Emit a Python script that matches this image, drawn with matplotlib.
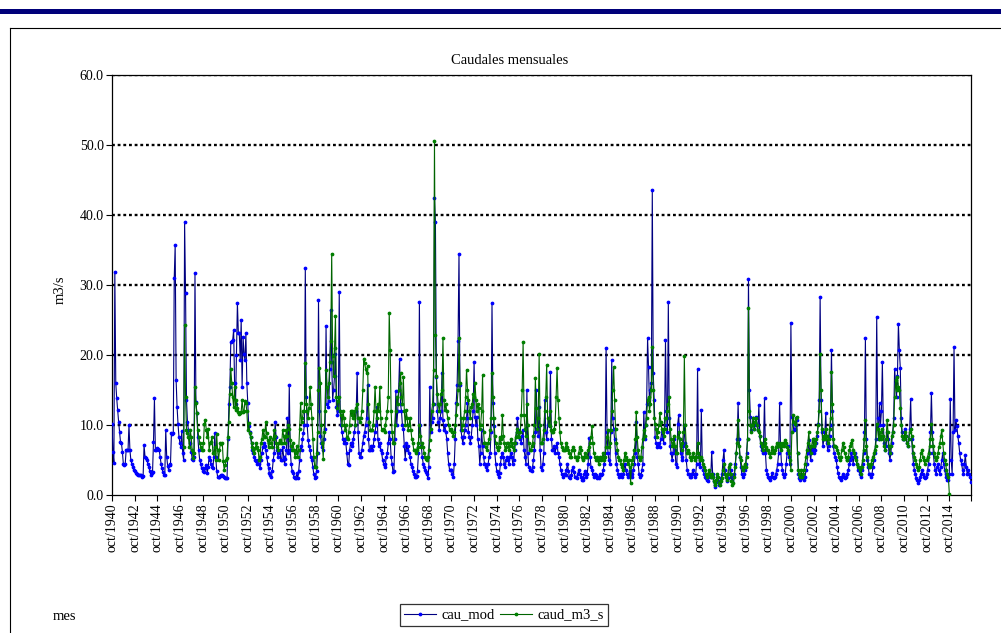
import numpy as np
import pandas as pd
import matplotlib
matplotlib.use("Agg")
import matplotlib.pyplot as plt
from matplotlib.lines import Line2D
from matplotlib.patches import Rectangle
from matplotlib.ticker import FormatStrFormatter

# monthly flows, one row per water year (oct..sep), 1940/41 .. 2015/16
cau_mod = [
    10.2, 6.2, 4.6, 31.9, 16, 13.8, 12.1, 10.5, 9, 7.6, 7.4, 6.2,
    4.5, 4.3, 4.4, 6.4, 6.5, 6.4, 10, 6.4, 5, 4.5, 4, 3.6,
    3.4, 3.1, 3.0, 3.0, 2.9, 2.9, 2.9, 2.8, 2.6, 2.7, 7.1, 5.5,
    5.3, 5, 4.5, 4, 3.5, 2.9, 3.1, 3.3, 7.6, 13.8, 6.4, 6.5,
    6.7, 6.6, 6.5, 5.5, 4.5, 3.8, 3.3, 2.9, 2.9, 9.3, 5.5, 4.2,
    3.6, 4.5, 4.3, 8.8, 8.7, 8.8, 31, 35.7, 16.4, 12.6, 10.2, 8.3,
    7.5, 6.9, 9.1, 6.0, 5.0, 39, 28.8, 13.6, 10.5, 9.3, 8.3, 7.4,
    6.2, 5.2, 5.0, 5.5, 31.7, 13.3, 11.7, 8.3, 6.4, 5.0, 4.5, 3.8,
    3.8, 3.5, 3.3, 3.8, 4.3, 3.1, 4.0, 5.5, 5.0, 4.5, 4.0, 3.8,
    5.5, 8.8, 5.5, 3.5, 2.6, 2.6, 2.6, 2.7, 2.9, 2.8, 2.7, 2.6,
    2.5, 2.4, 2.4, 8.0, 13, 15.5, 21.9, 22, 22.1, 23.6, 16, 13,
    20, 27.4, 23.1, 23.1, 19.3, 25, 15.5, 22.6, 20.2, 19.3, 23.1, 16,
    13.1, 9.8, 9, 8.3, 7.4, 6.4, 6, 5.5, 5, 4.8, 4.5, 5,
    4.5, 3.8, 5, 6.0, 6.9, 7.4, 7.0, 6.4, 5.5, 4.5, 3.8, 3.1,
    2.8, 2.6, 3.5, 5, 6, 10.5, 8.3, 6.5, 5.5, 6.0, 6.4, 5,
    5.0, 6.9, 5.5, 4.5, 5.2, 6.4, 11, 6.0, 15.7, 6.5, 4.5, 3.5,
    3.2, 2.6, 2.4, 2.5, 3.1, 2.4, 3.4, 5.0, 7.0, 6.5, 8.0, 8.8,
    10, 32.4, 14, 10, 7.9, 7, 6.5, 5.5, 5, 4, 3, 2.4,
    2.6, 3.5, 6.0, 27.9, 12.0, 8.5, 7.5, 6.9, 6.5, 8.0, 9.5, 24.1,
    13, 12.6, 13.5, 18, 26.4, 19, 13.6, 15, 17, 20.2, 12.6, 11.5,
    12, 29, 12, 10, 9, 8, 7.4, 8, 7.4, 6.0, 4.5, 4.3,
    6.4, 7.4, 7.0, 7.4, 8.0, 9.0, 10, 12, 17.4, 9, 6, 5.5,
    5.5, 6.5, 7.4, 8.5, 9, 10, 11, 15.7, 8, 6.4, 6.4, 7,
    6.4, 7, 8, 9, 10, 12.6, 8, 7, 7.4, 6.4, 6.0, 5.0,
    4.5, 4.0, 4.5, 5.5, 6.0, 7.4, 9.0, 8.0, 5.5, 4.5, 3.3, 3.5,
    8, 14.8, 10, 12, 15, 19.5, 13, 12, 10, 9.5, 7, 5.2,
    7.4, 6.5, 7.0, 6.0, 5.5, 4.5, 4.0, 3.5, 3.0, 2.6, 2.6, 2.7,
    3.5, 6.0, 27.6, 10, 7, 5.5, 4.5, 4.0, 3.6, 3.3, 3.0, 2.4,
    4, 15.5, 9, 10.5, 11, 13, 42.4, 39, 16.9, 12, 10.5, 9.3,
    11, 12, 17.4, 10.7, 9.3, 10, 9, 8, 6, 4.5, 3.6, 3.6,
    3.6, 3.0, 2.6, 4.5, 8, 13.1, 15.7, 22, 34.5, 15.7, 9.3, 8.3,
    7.4, 8.3, 9.3, 10, 11, 13.1, 9, 8.3, 7.5, 8.3, 10, 12,
    19, 11.2, 10, 11.2, 8, 7, 4.5, 6, 9.3, 7, 5.5, 4.5,
    4.5, 4.0, 3.6, 4.5, 5.5, 6.0, 9, 27.5, 13.1, 9.8, 6, 4.5,
    3.5, 3.0, 2.6, 3.2, 4.5, 5.5, 6.0, 5.5, 4.5, 4.0, 5.0, 5.5,
    5.0, 4.5, 5.5, 6.0, 5.5, 4.5, 5.0, 6.5, 7.5, 9.0, 11, 9.3,
    8.3, 8.0, 7.5, 8.5, 9.3, 6.5, 5.5, 4.5, 15, 6, 4.0, 3.6,
    3.6, 3.5, 4.0, 5.0, 6.5, 9, 15, 9.5, 8.5, 12.6, 6.5, 4.0,
    3.6, 4.5, 6.0, 13.6, 9.0, 8.0, 10, 11, 9.8, 17.6, 8, 6.5,
    6.5, 7.0, 6.0, 6.9, 7.4, 6.0, 5.5, 4.5, 3.6, 3.0, 2.6, 3.0,
    3.0, 2.8, 3.6, 4.5, 3.5, 2.6, 2.5, 2.8, 3.6, 4.0, 3.3, 2.6,
    2.6, 2.4, 3.0, 3.6, 3.0, 2.6, 2.2, 2.1, 2.5, 3.0, 3.5, 2.6,
    3.0, 4.5, 8.1, 5.5, 4.0, 3.6, 3.0, 2.6, 3.0, 2.8, 2.4, 2.6,
    2.4, 2.6, 3.0, 2.8, 3.0, 3.6, 4.5, 6.0, 21, 9.0, 6.0, 5.0,
    4.5, 9, 19.3, 11, 9.5, 8.0, 6.0, 4.5, 3.6, 3.0, 2.6, 2.8,
    3.0, 2.6, 3.0, 3.6, 4.5, 3.6, 3.0, 2.6, 3.0, 3.5, 3.0, 2.6,
    3.0, 3.6, 4.5, 6.0, 10.5, 5.5, 4.5, 3.0, 2.6, 2.8, 3.6, 4.5,
    11.9, 8, 10, 13, 22.4, 18.3, 13, 15, 16, 43.6, 17.4, 13.6,
    8.3, 7.5, 6.9, 7.0, 7.5, 6.9, 8.0, 9.0, 8.5, 7.5, 10, 22.1,
    12, 9, 27.6, 11, 7.0, 6.0, 5.0, 6.0, 8.0, 6.5, 4.5, 4.0,
    10.2, 11.4, 8.0, 6.0, 5.5, 5.0, 7.0, 10, 7.4, 5.0, 3.6, 3.0,
    3.0, 2.6, 2.6, 3.0, 3.6, 3.0, 2.6, 3.0, 4.5, 18, 6.0, 4.5,
    4.0, 12.1, 5.0, 3.6, 3.0, 2.6, 2.4, 2.1, 2.0, 2.6, 3.0, 2.6,
    6.2, 3.0, 2.0, 1.5, 1.2, 1.8, 2.6, 2.0, 1.5, 1.8, 2.4, 3.0,
    5.0, 6.4, 3.6, 2.6, 2.0, 2.4, 3.0, 4.5, 3.6, 2.6, 2.0, 2.6,
    3.0, 4.5, 6.0, 8.0, 13.1, 8.0, 5.5, 4.0, 3.0, 2.6, 3.0, 3.6,
    4.5, 6.0, 8.0, 30.8, 15, 11.2, 9.3, 10, 11, 9.5, 10, 11.2,
    10, 9.3, 12.8, 8.5, 7.0, 6.5, 6.0, 7.5, 13.8, 6.0, 3.6, 3.0,
    2.6, 2.4, 2.1, 2.6, 3.1, 2.6, 2.4, 2.6, 3.0, 3.6, 4.5, 6.0,
    13.1, 7.0, 4.5, 3.6, 3.0, 2.6, 3.0, 4.5, 6.0, 7.0, 5.5, 4.5,
    24.6, 11.2, 10.2, 9.3, 9.5, 10, 10.7, 6.0, 3.0, 2.4, 2.1, 3.0,
    2.6, 2.4, 2.1, 2.6, 3.6, 4.5, 6.0, 7.9, 6.0, 5.0, 6.5, 7.0,
    6.0, 7.0, 6.5, 7.5, 8.5, 10.2, 13.6, 28.3, 13.6, 9.0, 7.0, 8.0,
    9.0, 11.7, 7.5, 6.5, 7.0, 8.5, 10, 20.7, 12, 7.0, 6.0, 5.5,
    5.0, 4.0, 3.1, 2.6, 2.4, 2.1, 2.6, 3.0, 2.6, 2.4, 2.6, 3.0,
    3.0, 3.6, 4.5, 5.0, 6.0, 5.5, 4.5, 5.5, 6.0, 5.5, 4.5, 3.6,
    3.6, 3.0, 2.6, 3.6, 4.5, 6.0, 9.0, 22.4, 8.0, 5.0, 4.0, 3.0,
    3.0, 2.6, 3.0, 4.0, 5.0, 6.0, 8.0, 25.5, 11, 8.0, 13.1, 10,
    12, 19, 10, 7.5, 6.5, 7.0, 9.0, 8.0, 6.0, 5.0, 6.0, 7.5,
    9.0, 11, 18, 16, 14, 17, 24.5, 20.7, 18.2, 11, 9.0, 8.0,
    8.0, 9.5, 8.5, 7.5, 7.0, 8.0, 9.5, 13.7, 8.0, 6.0, 4.5, 3.6,
    3.0, 2.4, 2.1, 1.7, 2.1, 2.6, 3.0, 3.6, 3.0, 2.6, 2.4, 2.6,
    3.0, 3.6, 4.5, 6.0, 9.0, 14.6, 9.0, 6.0, 4.5, 3.6, 3.0, 4.0,
    4.5, 3.6, 3.0, 4.0, 5.0, 6.0, 4.5, 3.6, 3.0, 2.6, 2.1, 2.1,
    3.0, 13.7, 5.0, 3.0, 9.0, 21.1, 9.3, 10.7, 9.8, 8.5, 7.4, 6.0,
    5.0, 4.5, 3.6, 3.0, 4.5, 5.7, 4.0, 3.0, 3.6, 3.0, 2.6, 1.9,
]

N = None
caud_m3_s = [N] * 72 + [
    N, N, N, N, 6.9, 24.3, 14, 9.3, 8.8, 8.3, 6.9, 9.3,
    8.3, 6.4, 5.3, 6.0, 15.5, 13.1, 11.7, 9.3, 8.3, 7.5, 6.9, 6.4,
    6.4, 7.5, 10.2, 10.7, 9.3, 8.3, 9.5, 6.4, 7.4, 7.6, 8.3, 6.0,
    6.0, 6.9, 5.0, 8.7, 6.4, 5.0, 6.4, 7.4, 7.3, 7.4, 4.8, 3.6,
    4.3, 5, 5.3, 8.3, 10.5, 14.5, 18, 16, 14, 12.6, 15.5, 12.1,
    13.6, 12.5, 11.9, 11.6, 11.7, 11.9, 13.6, 11.9, 12, 13.5, 13.1, 12,
    9.3, 10.3, 8.8, 8.3, 7.5, 6.9, 6.5, 6, 6.7, 7.4, 6.8, 6.4,
    5, 5.5, 7.4, 8, 9.3, 8.5, 8.3, 10.5, 8.8, 7.8, 6.9, 7.5,
    8.3, 7.5, 6.9, 8, 9.3, 8.5, 7.5, 6.9, 6.5, 7.5, 7.9, 7.5,
    7.5, 9.3, 8.5, 7.4, 8.3, 9.3, 8.5, 10, 9.5, 7.9, 7, 6.5,
    7.4, 6.5, 5.5, 6.0, 7.0, 5.5, 6.5, 9.5, 13.1, 10.5, 11.0, 12.0,
    12, 18.8, 13, 12, 11, 12.5, 15.5, 13, 11, 8, 5.5, 4,
    4.0, 6.0, 9.0, 15.0, 18.1, 16.0, 10.0, 7.5, 5.2, 9.0, 12.0, 17.9,
    15.5, 14, 16, 19, 22, 34.5, 19.8, 17, 21, 25.6, 14, 12.5,
    13.5, 14, 12, 11.5, 10, 12, 11, 9.3, 10, 8.3, 8.0, 9.0,
    10, 12, 11.5, 12, 11, 12, 10, 12.5, 13, 11, 11, 10.5,
    11, 12, 15, 19.5, 18.8, 18, 17.4, 18.5, 13, 10.5, 9.3, 9.3,
    9.3, 10, 12, 15.5, 12, 11, 13, 12, 15.5, 11, 9.3, 9.5,
    9.3, 9.0, 10, 11, 12, 14, 26, 20.7, 12, 9, 7.4, 7.4,
    10, 12, 14, 13, 15, 16, 17.4, 14, 13, 16.9, 12, 10,
    12.1, 11, 9.3, 10, 11, 9.3, 8, 7.5, 6.4, 6.4, 6.0, 6.4,
    6.9, 7.5, 10, 8.5, 6.9, 7.5, 6.9, 6.0, 5.5, 5.2, 5.0, 5.5,
    6.5, 7.9, 9.5, 12, 13, 17.9, 50.6, 22.9, 17, 14.5, 13, 12,
    13, 14.5, 15, 22.4, 13.6, 12.1, 13, 12, 11, 10, 9.3, 9.5,
    9.3, 9.0, 8.5, 9.0, 10, 11.5, 13, 15, 22.4, 16, 11, 9.3,
    10, 11, 12, 14, 17.9, 15, 13.6, 12, 11, 12.6, 13, 14.5,
    14, 16, 13.6, 12, 13, 12.5, 9.5, 10, 12, 17.1, 9, 7.4,
    7.4, 6.9, 6.5, 7.5, 8, 9.3, 11, 17.4, 14, 11, 8.5, 7.4,
    6.9, 6.4, 6.9, 8.3, 7.5, 8.0, 11.4, 8.5, 7.4, 6.4, 6.9, 7.4,
    7.4, 6.4, 7.0, 8.0, 7.5, 6.9, 6.4, 7.5, 8.3, 9.0, 9.5, 8.5,
    8.3, 9.0, 11.4, 15, 21.9, 11.4, 9.5, 8.5, 13, 10, 7.4, 6.4,
    6.4, 7.0, 7.4, 8.5, 10, 16.7, 12.5, 9.5, 11, 20.2, 10, 7.4,
    7.4, 8.0, 9.3, 12, 14, 18.6, 11, 10, 9.8, 12, 9.3, 9.0,
    9.0, 9.5, 10.5, 14, 18.1, 13.6, 11, 9, 7.4, 6.9, 6.4, 6.4,
    6.4, 6.9, 7.4, 6.9, 6.4, 6.0, 5.5, 5.5, 6.4, 6.9, 6.4, 5.5,
    5.5, 5.0, 5.5, 6.0, 6.9, 6.4, 5.5, 5.0, 5.2, 5.5, 6.0, 5.5,
    5.5, 6.4, 6.9, 7.5, 8.3, 9.8, 7.4, 6.0, 5.5, 5.0, 5.5, 5.0,
    4.5, 5.0, 5.5, 5.0, 5.5, 6.0, 5.0, 5.5, 6.9, 8.3, 9.3, 6.9,
    7.4, 9.3, 12, 15, 18.3, 13.6, 9.5, 7.4, 6.4, 5.5, 5.0, 5.0,
    4.5, 4.0, 3.6, 5.0, 6.0, 5.5, 5.0, 4.5, 5.0, 4.0, 1.7, 4.5,
    5.0, 5.5, 6.4, 8.0, 11.9, 8.3, 6.4, 5.5, 5.0, 5.5, 6.9, 8.0,
    9.3, 8.5, 10, 11, 13.6, 14, 12, 13, 15, 21.2, 15, 11,
    10.2, 9.5, 8.3, 9.0, 10, 11.7, 10.5, 9.5, 9.0, 8.5, 9.5, 11,
    11, 12, 13, 14, 9.5, 8.0, 7.0, 7.5, 8.5, 7.0, 6.0, 6.0,
    8.3, 9.0, 8.0, 7.0, 6.5, 7.5, 9.0, 19.8, 10, 7.0, 6.0, 6.4,
    6.0, 5.5, 5.0, 5.5, 6.0, 5.5, 5.0, 5.5, 6.0, 7.5, 6.0, 5.5,
    5.0, 5.5, 5.0, 4.5, 4.0, 3.6, 3.0, 2.6, 3.0, 3.6, 3.0, 2.6,
    3.0, 2.6, 2.0, 1.7, 1.5, 2.2, 3.0, 2.6, 1.7, 1.5, 2.0, 2.5,
    3.6, 4.5, 3.0, 2.6, 2.2, 3.0, 4.0, 4.5, 3.0, 2.0, 1.5, 1.7,
    2.6, 4.0, 6.0, 7.5, 10.7, 7.0, 5.5, 5.0, 4.0, 3.6, 4.0, 4.5,
    4.0, 5.5, 8.0, 26.7, 12, 10, 9.0, 10, 11, 9.5, 10.5, 11,
    10, 9.3, 9.0, 8.5, 7.5, 7.0, 6.4, 7.0, 8.0, 7.5, 6.9, 6.4,
    6.4, 6.0, 5.5, 6.0, 6.9, 6.4, 6.0, 6.4, 6.9, 7.4, 7.0, 7.0,
    7.5, 7.0, 6.5, 7.0, 7.5, 7.0, 7.9, 7.5, 6.9, 6.4, 6.0, 5.0,
    3.6, 9.0, 11.4, 10.5, 10.2, 11, 11.2, 6.0, 3.6, 3.0, 2.6, 3.6,
    2.6, 3.0, 3.6, 4.5, 5.5, 6.5, 7.5, 9.0, 7.0, 6.0, 7.0, 8.0,
    7.0, 8.0, 7.5, 8.0, 9.0, 10, 12, 20.2, 15, 9.5, 8.0, 8.5,
    8.0, 9.5, 8.5, 7.5, 8.0, 9.5, 11, 17.6, 13, 8.0, 7.0, 7.0,
    6.9, 6.4, 6.0, 5.5, 5.0, 5.5, 6.4, 7.4, 6.9, 6.0, 5.5, 5.0,
    5.0, 5.5, 6.4, 7.0, 7.5, 7.9, 6.5, 6.0, 5.5, 5.0, 4.5, 4.0,
    4.0, 3.6, 3.0, 4.0, 5.0, 6.5, 8.0, 10.7, 7.0, 5.5, 4.5, 4.0,
    4.0, 4.5, 5.0, 5.5, 6.0, 6.5, 7.0, 10.2, 9.5, 8.0, 9.0, 8.5,
    8.0, 9.5, 8.5, 7.0, 6.5, 8.0, 10.7, 9.0, 7.0, 6.0, 7.0, 8.5,
    9.0, 10, 14, 16.4, 15, 16.9, 15.5, 15, 12.5, 10, 8.5, 8.0,
    8.0, 9.0, 8.5, 7.5, 7.0, 8.0, 9.0, 9.5, 8.5, 7.0, 6.0, 5.5,
    5.0, 4.5, 4.0, 3.6, 4.0, 5.0, 6.0, 6.4, 5.5, 5.0, 4.5, 5.0,
    5.0, 5.5, 6.0, 7.0, 8.0, 10.2, 8.0, 7.0, 6.0, 5.5, 5.0, 5.5,
    6.0, 6.9, 7.5, 8.5, 9.3, 7.5, 6.0, 5.0, 4.5, 3.6, 3.0, 2.6,
    0.2, N, N, N, N, N, N, N, N, N, N, N,
] + [N] * 12

months = pd.date_range("1940-10-01", periods=len(cau_mod), freq="MS")
tick_every = 24
y_ticks = [0, 10, 20, 30, 40, 50, 60]

mod = np.array(cau_mod, dtype=float)
obs = np.array(caud_m3_s, dtype=float)
x = np.arange(len(months))

serif = ["Liberation Serif", "DejaVu Serif"]
plt.rcParams["font.family"] = serif

W, H = 1001, 633
fig = plt.figure(figsize=(W / 100, H / 100), dpi=100)

# page decoration: heavy blue rule and chart frame
fig.add_artist(Rectangle((0, 1 - 14 / H), 1, 5 / H, transform=fig.transFigure,
                         color="#00007a", lw=0))
fig.add_artist(Line2D([10 / W, 1], [1 - 28 / H, 1 - 28 / H], transform=fig.transFigure,
                      color="black", lw=0.8))
fig.add_artist(Line2D([10 / W, 10 / W], [0, 1 - 28 / H], transform=fig.transFigure,
                      color="black", lw=0.8))

ax = fig.add_axes([112 / W, 1 - 495 / H, (971 - 112) / W, (495 - 75) / H])

for yv in y_ticks[1:]:
    ax.axhline(yv, color="black", lw=1.7, ls=(0, (1.2, 1.2)), zorder=1)

ax.plot(x, mod, color="#000080", lw=0.8, marker="o", ms=1.7,
        mfc="#0000ff", mec="#0000ff", label="cau_mod", zorder=3)
ax.plot(x, obs, color="#006400", lw=0.8, marker="o", ms=1.7,
        mfc="#008000", mec="#008000", label="caud_m3_s", zorder=4)

ax.set_xlim(0, len(x) - 1)
ax.set_ylim(0, 60)
ax.set_yticks(y_ticks)
ax.yaxis.set_major_formatter(FormatStrFormatter("%.1f"))

tick_pos = list(range(0, len(x), tick_every))
tick_lab = ["oct/%d" % months[i].year for i in tick_pos]
ax.set_xticks(tick_pos + [len(x) - 1])
ax.set_xticklabels(tick_lab + [""], rotation=90)

ax.tick_params(axis="both", direction="out", length=4, width=0.8,
               labelsize=10, colors="black", pad=2)
for s in ax.spines.values():
    s.set_color("black")
    s.set_linewidth(0.9)

fig.text(510 / W, 1 - 61 / H, "Caudales mensuales", ha="center", va="center", fontsize=10.5)
fig.text(60 / W, 1 - 290 / H, "m3/s", rotation=90, ha="center", va="center", fontsize=10.5)
fig.text(53 / W, 1 - 617 / H, "mes", ha="left", va="center", fontsize=10.5)

leg = fig.legend(loc="center", bbox_to_anchor=(504 / W, 1 - 615 / H), ncol=2,
                 fontsize=10.5, frameon=True, fancybox=False, edgecolor="black",
                 handlelength=2.2, columnspacing=0.4, handletextpad=0.35,
                 borderpad=0.3, markerscale=1.0)
leg.get_frame().set_linewidth(0.9)

fig.savefig("out.png", dpi=100)
